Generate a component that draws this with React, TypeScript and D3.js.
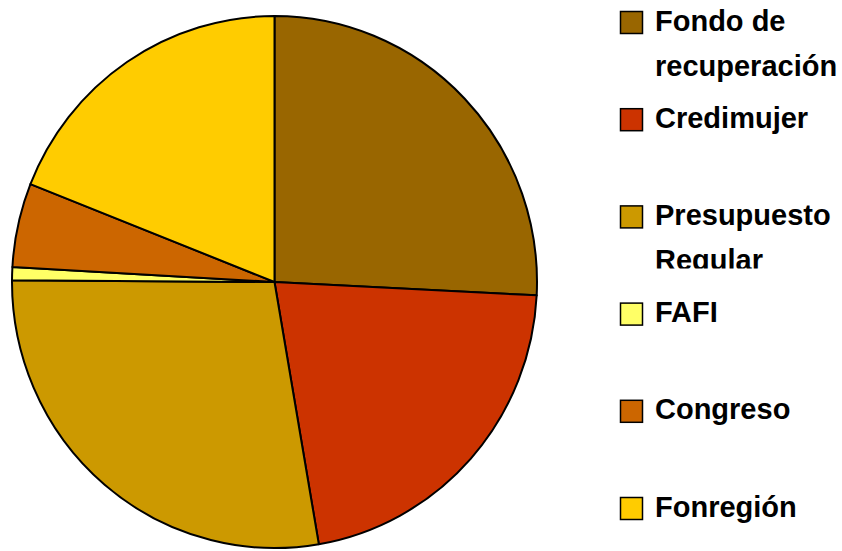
import React from "react";
import * as d3 from "d3";

const categories = ["Fondo de recuperación", "Credimujer", "Presupuesto Regular", "FAFI", "Congreso", "Fonregión"];
const legendLines = [["Fondo de", "recuperación"], ["Credimujer"], ["Presupuesto", "Regular"], ["FAFI"], ["Congreso"], ["Fonregión"]];
const values = [25.8, 21.5, 27.8, 0.8, 5.1, 19.0];
const colors = ["#996600", "#CC3300", "#CC9900", "#FFFF66", "#CC6600", "#FFCC00"];

export default function App() {
  const W = 842, H = 551;
  const cx = 274.5, cy = 282, r = 262.5, sy = 266 / 262.5;
  const pie = d3.pie<number>().sort(null).value((d) => d)(values);
  const arc = d3.arc<d3.PieArcDatum<number>>().innerRadius(0).outerRadius(r);
  const legendY = d3.scaleLinear().domain([0, categories.length - 1]).range([22.5, 508.5]);
  return (
    <svg width={W} height={H} style={{ position: "absolute", left: 0, top: 0, background: "#fff" }}>
      <defs>
        {categories.map((c, i) => (
          <clipPath id={`lc${i}`} key={c}>
            <rect x={600} y={legendY(i) - 50} width={242} height={i === 0 ? 130 : 101.5} />
          </clipPath>
        ))}
      </defs>
      <g transform={`translate(${cx},${cy}) scale(1,${sy})`}>
        {pie.map((p, i) => (
          <path key={categories[i]} d={arc(p) || ""} fill={colors[i]} stroke="#000" strokeWidth={2} vectorEffect="non-scaling-stroke" strokeLinejoin="round" />
        ))}
      </g>
      {categories.map((c, i) => {
        const y = legendY(i);
        return (
          <g key={c} clipPath={`url(#lc${i})`}>
            <rect x={620.5} y={y - 11} width={22} height={22} fill={colors[i]} stroke="#000" strokeWidth={1.5} />
            <text fontFamily="Liberation Sans, Arial, sans-serif" fontWeight="bold" fontSize={29} fill="#000">
              {legendLines[i].map((t, k) => (
                <tspan key={k} x={655} y={y + 8 + k * 45}>{t}</tspan>
              ))}
            </text>
          </g>
        );
      })}
    </svg>
  );
}
